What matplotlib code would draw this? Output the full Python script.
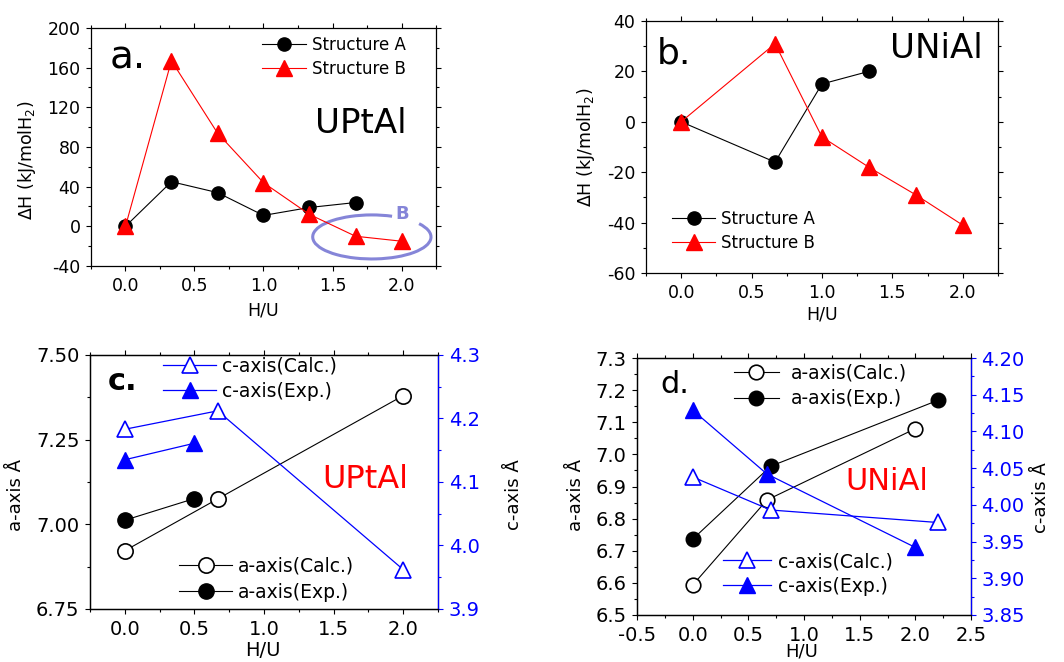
import numpy as np
import matplotlib
matplotlib.use("Agg")
import matplotlib.pyplot as plt
from matplotlib.patches import Arc
from matplotlib.ticker import MultipleLocator, FormatStrFormatter

plt.rcParams["font.family"] = "DejaVu Sans"
plt.rcParams["axes.unicode_minus"] = False

# --- a. UPtAl: formation enthalpy vs H/U
hu_a_A = [0.0, 0.333, 0.667, 1.0, 1.333, 1.667]
dh_a_A = [0, 45, 34, 11, 19, 24]
hu_a_B = [0.0, 0.333, 0.667, 1.0, 1.333, 1.667, 2.0]
dh_a_B = [0, 167, 94, 44, 12, -10, -15]

# --- b. UNiAl
hu_b_A = [0.0, 0.667, 1.0, 1.333]
dh_b_A = [0, -16, 15, 20]
hu_b_B = [0.0, 0.667, 1.0, 1.333, 1.667, 2.0]
dh_b_B = [0, 31, -6, -18, -29, -41]

# --- c. UPtAl lattice parameters
hu_c_calc = [0.0, 0.667, 2.0]
a_c_calc = [6.922, 7.075, 7.380]
c_c_calc = [4.183, 4.212, 3.962]
hu_c_exp = [0.0, 0.5]
a_c_exp = [7.012, 7.076]
c_c_exp = [4.135, 4.161]

# --- d. UNiAl lattice parameters
hu_d_acalc = [0.0, 0.667, 2.0]
a_d_calc = [6.593, 6.858, 7.080]
hu_d_aexp = [0.0, 0.7, 2.2]
a_d_exp = [6.736, 6.963, 7.168]
hu_d_ccalc = [0.0, 0.7, 2.2]
c_d_calc = [4.038, 3.993, 3.976]
hu_d_cexp = [0.0, 0.667, 2.0]
c_d_exp = [4.129, 4.042, 3.942]

BLUE = "#0000ff"
RED = "#ff0000"
LAV = "#8585d8"

fig = plt.figure(figsize=(10.64, 6.62), dpi=100)
ax_a = fig.add_axes([0.0855, 0.5982, 0.3243, 0.3595])
ax_b = fig.add_axes([0.6071, 0.5876, 0.3308, 0.3807])
ax_c = fig.add_axes([0.0846, 0.0801, 0.3271, 0.3837])
ax_d = fig.add_axes([0.5987, 0.0710, 0.3139, 0.3882])


def style(ax, fs, right=True):
    ax.tick_params(which="both", direction="out", top=True, right=right,
                   width=0.8, labelsize=fs, pad=4)
    ax.tick_params(which="major", length=3.6)
    ax.tick_params(which="minor", length=2.2)
    for s in ax.spines.values():
        s.set_linewidth(0.9)


def leg(ax, x, y, fs, hl, tp, ls, handles=None):
    kw = {} if handles is None else {"handles": handles}
    return ax.legend(loc="upper left", bbox_to_anchor=(x, y), frameon=False,
                     fontsize=fs, borderpad=0, borderaxespad=0,
                     handlelength=hl, handletextpad=tp, labelspacing=ls,
                     numpoints=1, **kw)


# ---------------- a ----------------
ax = ax_a
ax.plot(hu_a_A, dh_a_A, "-o", color="black", lw=0.8, ms=9.5, label="Structure A")
ax.plot(hu_a_B, dh_a_B, "-^", color=RED, lw=0.8, ms=11, label="Structure B")
ax.set_xlim(-0.25, 2.25)
ax.set_ylim(-40, 200)
ax.xaxis.set_major_locator(MultipleLocator(0.5))
ax.xaxis.set_minor_locator(MultipleLocator(0.25))
ax.xaxis.set_major_formatter(FormatStrFormatter("%.1f"))
ax.yaxis.set_major_locator(MultipleLocator(40))
ax.yaxis.set_minor_locator(MultipleLocator(20))
style(ax, 12.5)
ax.set_xlabel("H/U", fontsize=12.5)
ax.set_ylabel("ΔH (kJ/molH$_2$)", fontsize=12.5)
ax.xaxis.set_label_coords(0.5, -0.15)
ax.yaxis.set_label_coords(-0.154, 0.445)
leg(ax, 0.496, 0.966, 12, 2.64, 0.36, 0.34)
ax.text(0.055, 0.828, "a.", transform=ax.transAxes, fontsize=28, va="baseline")
ax.text(0.649, 0.559, "UPtAl", transform=ax.transAxes, fontsize=24.5, va="baseline")
# highlighted region around structure B minimum
ell_x, ell_y, ell_w, ell_h = 1.785, -10.7, 0.857, 44.4
def geo(t):
    t = np.radians(t)
    return np.degrees(np.arctan2(ell_h * np.sin(t), ell_w * np.cos(t)))
ax.add_patch(Arc((ell_x, ell_y), ell_w, ell_h, theta1=geo(70), theta2=geo(37),
                 color=LAV, lw=2.2, zorder=1))
ax.text(2.004, 12.4, "B", color=LAV, fontsize=13, fontweight="bold",
        ha="center", va="center")

# ---------------- b ----------------
ax = ax_b
ax.plot(hu_b_A, dh_b_A, "-o", color="black", lw=0.8, ms=9.5, label="Structure A")
ax.plot(hu_b_B, dh_b_B, "-^", color=RED, lw=0.8, ms=11, label="Structure B")
ax.set_xlim(-0.25, 2.25)
ax.set_ylim(-60, 40)
ax.xaxis.set_major_locator(MultipleLocator(0.5))
ax.xaxis.set_minor_locator(MultipleLocator(0.25))
ax.xaxis.set_major_formatter(FormatStrFormatter("%.1f"))
ax.yaxis.set_major_locator(MultipleLocator(20))
ax.yaxis.set_minor_locator(MultipleLocator(10))
style(ax, 12.5)
ax.set_xlabel("H/U", fontsize=12.5)
ax.set_ylabel("ΔH (kJ/molH$_2$)", fontsize=12.5)
ax.xaxis.set_label_coords(0.5, -0.127)
ax.yaxis.set_label_coords(-0.139, 0.5)
leg(ax, 0.074, 0.25, 12, 2.58, 0.36, 0.34)
ax.text(0.031, 0.833, "b.", transform=ax.transAxes, fontsize=26, va="baseline")
ax.text(0.693, 0.853, "UNiAl", transform=ax.transAxes, fontsize=24.5, va="baseline")

# ---------------- c ----------------
ax = ax_c
ax2 = ax.twinx()
ax.plot(hu_c_calc, a_c_calc, "-o", color="black", mfc="white", mew=1.2, lw=0.8,
        ms=11, label="a-axis(Calc.)")
ax.plot(hu_c_exp, a_c_exp, "-o", color="black", lw=0.8, ms=11, label="a-axis(Exp.)")
ax2.plot(hu_c_calc, c_c_calc, "-^", color=BLUE, mfc="white", mew=1.2, lw=0.9,
         ms=12, label="c-axis(Calc.)")
ax2.plot(hu_c_exp, c_c_exp, "-^", color=BLUE, lw=0.9, ms=12, label="c-axis(Exp.)")
ax.set_xlim(-0.25, 2.25)
ax.set_ylim(6.75, 7.50)
ax2.set_ylim(3.9, 4.3)
ax.xaxis.set_major_locator(MultipleLocator(0.5))
ax.xaxis.set_minor_locator(MultipleLocator(0.25))
ax.xaxis.set_major_formatter(FormatStrFormatter("%.1f"))
ax.yaxis.set_major_locator(MultipleLocator(0.25))
ax.yaxis.set_minor_locator(MultipleLocator(0.125))
ax.yaxis.set_major_formatter(FormatStrFormatter("%.2f"))
ax2.yaxis.set_major_locator(MultipleLocator(0.1))
ax2.yaxis.set_minor_locator(MultipleLocator(0.05))
ax2.yaxis.set_major_formatter(FormatStrFormatter("%.1f"))
style(ax, 14, right=False)
style(ax2, 14)
ax2.tick_params(which="both", colors=BLUE)
ax2.spines["right"].set_color(BLUE)
ax.set_xlabel("H/U", fontsize=14)
ax.set_ylabel("a-axis Å", fontsize=13)
ax2.set_ylabel("c-axis Å", fontsize=13)
ax.xaxis.set_label_coords(0.497, -0.128)
ax.yaxis.set_label_coords(-0.187, 0.45)
ax2.yaxis.set_label_coords(1.193, 0.45)
leg(ax2, 0.21, 0.995, 13.5, 2.83, 0.32, 0.36)
leg(ax, 0.256, 0.205, 13.5, 2.83, 0.32, 0.36)
ax2.text(0.052, 0.862, "c.", transform=ax.transAxes, fontsize=22,
         fontweight="bold", va="baseline")
ax2.text(0.667, 0.476, "UPtAl", transform=ax.transAxes, fontsize=23,
         color=RED, va="baseline")

# ---------------- d ----------------
ax = ax_d
ax2 = ax.twinx()
ax.plot(hu_d_acalc, a_d_calc, "-o", color="black", mfc="white", mew=1.2, lw=0.8,
        ms=10.5, label="a-axis(Calc.)")
ax.plot(hu_d_aexp, a_d_exp, "-o", color="black", lw=0.8, ms=10.5, label="a-axis(Exp.)")
ax2.plot(hu_d_ccalc, c_d_calc, "-^", color=BLUE, mfc="white", mew=1.2, lw=0.9,
         ms=12, label="c-axis(Calc.)")
ax2.plot(hu_d_cexp, c_d_exp, "-^", color=BLUE, lw=0.9, ms=12, label="c-axis(Exp.)")
ax.set_xlim(-0.5, 2.5)
ax.set_ylim(6.5, 7.3)
ax2.set_ylim(3.85, 4.20)
ax.xaxis.set_major_locator(MultipleLocator(0.5))
ax.xaxis.set_minor_locator(MultipleLocator(0.25))
ax.xaxis.set_major_formatter(FormatStrFormatter("%.1f"))
ax.yaxis.set_major_locator(MultipleLocator(0.1))
ax.yaxis.set_minor_locator(MultipleLocator(0.05))
ax.yaxis.set_major_formatter(FormatStrFormatter("%.1f"))
ax2.yaxis.set_major_locator(MultipleLocator(0.05))
ax2.yaxis.set_minor_locator(MultipleLocator(0.025))
ax2.yaxis.set_major_formatter(FormatStrFormatter("%.2f"))
style(ax, 14, right=False)
style(ax2, 14)
ax2.tick_params(which="both", colors=BLUE)
ax2.spines["right"].set_color(BLUE)
ax.set_xlabel("H/U", fontsize=13)
ax.set_ylabel("a-axis Å", fontsize=13)
ax2.set_ylabel("c-axis Å", fontsize=13)
ax.xaxis.set_label_coords(0.494, -0.108)
ax.yaxis.set_label_coords(-0.156, 0.467)
ax2.yaxis.set_label_coords(1.183, 0.455)
lg = leg(ax2, 0.257, 0.245, 13.5, 2.56, 0.37, 0.31)
ax2.add_artist(lg)
leg(ax2, 0.29, 0.978, 13.5, 2.4, 0.64, 0.36, handles=ax.get_lines())
ax2.text(0.069, 0.864, "d.", transform=ax.transAxes, fontsize=22, va="baseline")
ax2.text(0.623, 0.486, "UNiAl", transform=ax.transAxes, fontsize=22,
         color=RED, va="baseline")

fig.savefig("out.png", dpi=100)
